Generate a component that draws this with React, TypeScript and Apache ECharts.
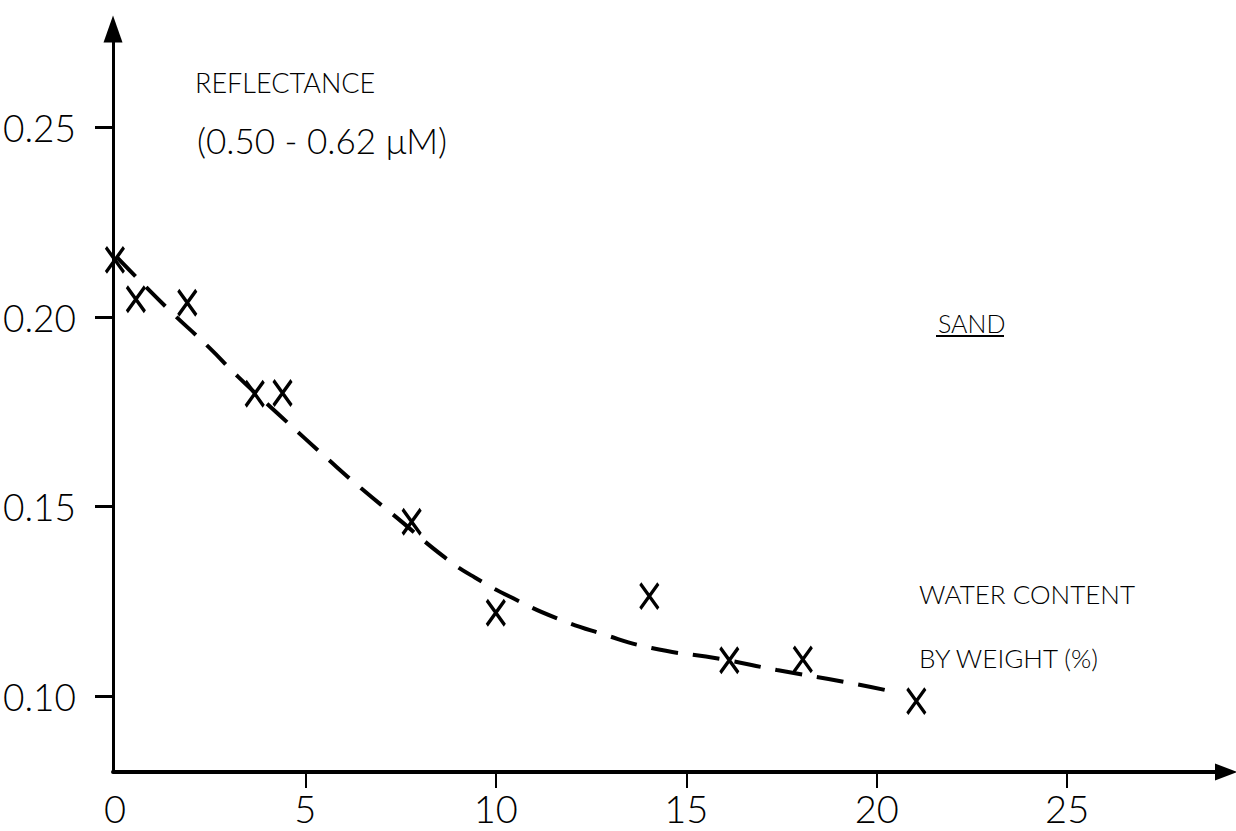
import React, { useEffect, useRef } from "react";
import * as echarts from "echarts";

// Axis tick labels / marks
const xLabelValues = [0, 5, 10, 15, 20, 25];
const xTickMarks = [5, 10, 15, 20, 25];
const yTickValues = [0.1, 0.15, 0.2, 0.25];

// Measured points (water content % by weight, reflectance)
const waterContent = [0, 0.55, 1.9, 3.67, 4.4, 7.79, 10.0, 14.03, 16.13, 18.06, 21.04];
const reflectance = [0.2151, 0.2047, 0.2038, 0.1798, 0.18, 0.146, 0.122, 0.1264, 0.1095, 0.1097, 0.0987];

// Dashed fitted curve
const curveX = [0.05, 1.36, 2.47, 3.23, 4.28, 5.64, 6.48, 7.4, 8.66, 9.45, 10.52, 11.59, 12.8, 14.09, 15.9, 17.38, 19.46, 20.5];
const curveY = [0.2158, 0.2025, 0.192, 0.1843, 0.1745, 0.1621, 0.1547, 0.1471, 0.1366, 0.1313, 0.1255, 0.1206, 0.1164, 0.1127, 0.1098, 0.1069, 0.1032, 0.101];

const FONT = "Lato, 'DejaVu Sans Condensed', sans-serif";
const WEIGHT = 300;

export default function App() {
  const ref = useRef<HTMLDivElement>(null);

  useEffect(() => {
    if (!ref.current) return;
    const chart = echarts.init(ref.current, undefined, { renderer: "svg" });

    const points = waterContent.map((x, i) => [x, reflectance[i]]);
    const curve = curveX.map((x, i) => [x, curveY[i]]);

    const textStyle = (size: number) => ({
      fontSize: size,
      fontFamily: FONT,
      fontWeight: WEIGHT,
      fill: "#000",
      textVerticalAlign: "middle",
    });

    const option: any = {
      animation: false,
      backgroundColor: "#ffffff",
      grid: { left: 113, right: 10, top: 29, bottom: 59, containLabel: false },
      xAxis: {
        type: "value",
        min: -0.05,
        max: 29.17,
        axisLine: {
          onZero: false,
          lineStyle: { color: "#000", width: 4 },
          symbol: ["none", "triangle"],
          symbolSize: [17, 22],
        },
        axisTick: {
          show: true,
          customValues: xTickMarks,
          length: 16,
          lineStyle: { color: "#000", width: 2 },
        },
        axisLabel: {
          customValues: xLabelValues,
          margin: 17,
          fontSize: 38,
          fontFamily: FONT,
          fontWeight: WEIGHT,
          color: "#000",
          formatter: (v: number) => String(Math.round(v)),
        },
        splitLine: { show: false },
      },
      yAxis: {
        type: "value",
        min: 0.08,
        max: 0.276,
        axisLine: {
          show: true,
          onZero: false,
          lineStyle: { color: "#000", width: 3 },
          symbol: ["none", "triangle"],
          symbolSize: [19, 27],
        },
        axisTick: {
          show: true,
          customValues: yTickValues,
          length: 18,
          lineStyle: { color: "#000", width: 3 },
        },
        axisLabel: {
          customValues: yTickValues,
          margin: 37,
          fontSize: 37,
          fontFamily: FONT,
          fontWeight: WEIGHT,
          color: "#000",
          formatter: (v: number) => v.toFixed(2),
        },
        splitLine: { show: false },
      },
      series: [
        {
          type: "line",
          data: curve,
          smooth: true,
          showSymbol: false,
          symbol: "none",
          lineStyle: { color: "#000", width: 4, type: [27, 15] },
          z: 2,
        },
        {
          type: "scatter",
          data: points,
          symbol: "path://M0,0L18,25M18,0L0,25",
          symbolSize: [18, 25],
          itemStyle: { color: "transparent", borderColor: "#000", borderWidth: 3.5, opacity: 1 },
          z: 3,
        },
      ],
      graphic: [
        { type: "text", x: 195, y: 82, style: { text: "REFLECTANCE", ...textStyle(27) } },
        { type: "text", x: 197, y: 140, style: { text: "(0.50 - 0.62 μM)", ...textStyle(35) } },
        { type: "text", x: 938, y: 323, style: { text: "SAND", ...textStyle(25) } },
        {
          type: "line",
          shape: { x1: 936, y1: 336, x2: 1004, y2: 336 },
          style: { stroke: "#000", lineWidth: 2 },
        },
        { type: "text", x: 919, y: 594, style: { text: "WATER CONTENT", ...textStyle(26) } },
        { type: "text", x: 919, y: 658, style: { text: "BY WEIGHT (%)", ...textStyle(26) } },
      ],
    };

    chart.setOption(option);
    return () => chart.dispose();
  }, []);

  return (
    <div
      ref={ref}
      style={{ position: "absolute", left: 0, top: 0, width: 1236, height: 831, background: "#fff" }}
    />
  );
}
